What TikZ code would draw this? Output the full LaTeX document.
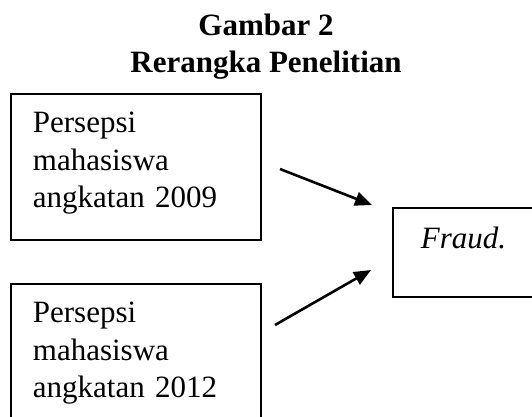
\documentclass[tikz,border=0pt]{standalone}
\usepackage{fontspec}
\setmainfont{Liberation Serif}
\usepackage{tikz}
\usetikzlibrary{arrows.meta}

\begin{document}
\begin{tikzpicture}[>={Triangle[length=17pt,width=14pt]},x=1pt,y=-1pt,
  font={\fontsize{31}{37.5}\selectfont},
  kotak/.style={draw,line width=1.8pt,anchor=north west,align=left,inner ysep=0pt,inner xsep=22pt,text width=206pt,text height=39pt,text depth=107pt},
  panah/.style={->,line width=2.6pt}]
\useasboundingbox (0,0) rectangle (532,416);
\clip (0,0) rectangle (532,416);
% judul
\node[font={\fontsize{31}{37.5}\selectfont\bfseries},anchor=base] (judul) at (266,35) {Gambar 2};
\node[font={\fontsize{31}{37.5}\selectfont\bfseries},anchor=base] (subjudul) at (266,72) {Rerangka Penelitian};
% variabel
\node[kotak] (p09) at (10,93) {Persepsi\\mahasiswa\\angkatan 2009};
\node[kotak] (p12) at (10,283) {Persepsi\\mahasiswa\\angkatan 2012};
\node[draw,line width=1.8pt,anchor=north west,align=left,inner ysep=0pt,inner xsep=28pt,text width=114pt,text height=41pt,text depth=48pt] (fraud) at (392,207) {\textit{Fraud.}};
% panah
\coordinate (a09) at (280,169);
\coordinate (b09) at (372,205);
\coordinate (a12) at (275,325);
\coordinate (b12) at (371,270);
\draw[panah] (a09) -- (b09);
\draw[panah] (a12) -- (b12);
\end{tikzpicture}
\end{document}
